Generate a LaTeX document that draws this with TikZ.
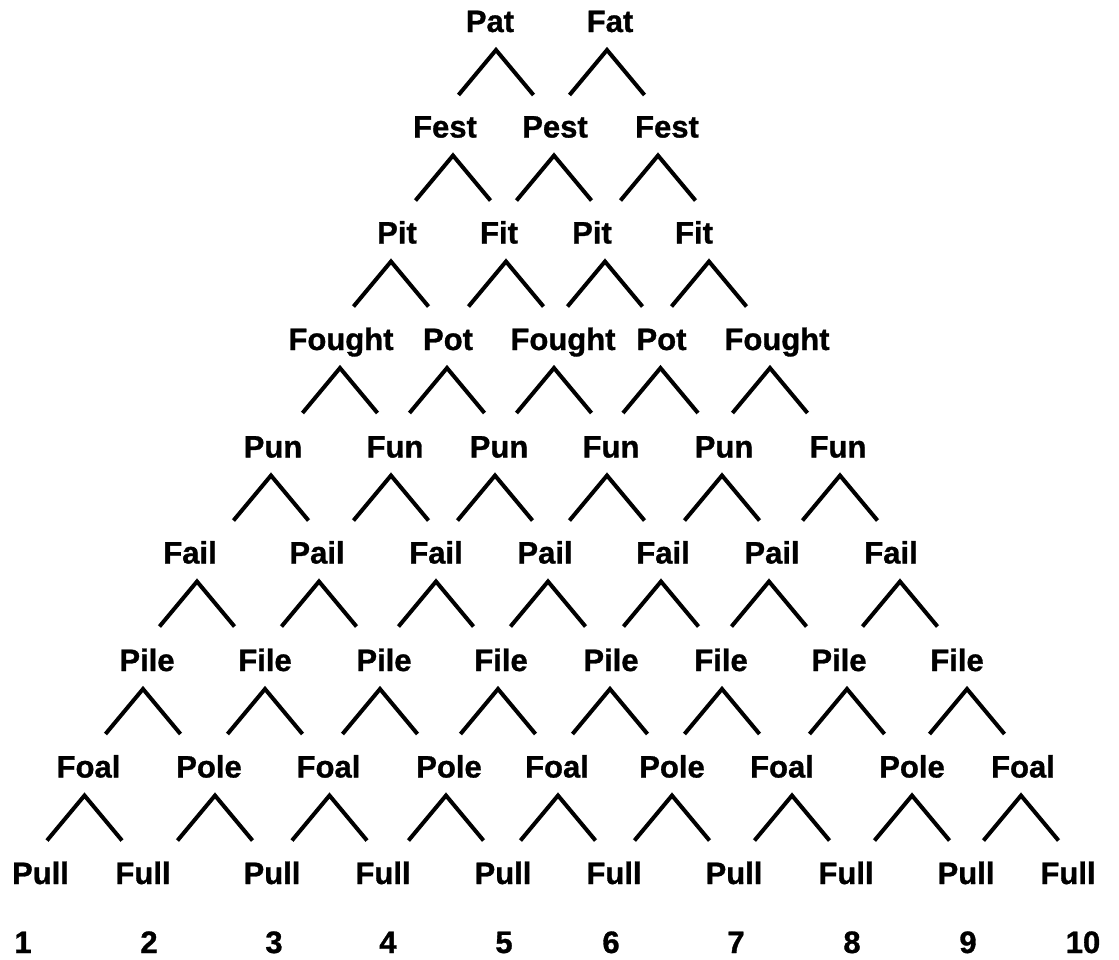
\documentclass[tikz,border=0pt]{standalone}
\usepackage{fontspec}
\setmainfont{Liberation Sans}[BoldFeatures={FakeBold=1}]
\usepackage{tikz}
\newcommand{\wordfont}{\fontsize{31}{37}\selectfont\bfseries}

\begin{document}
\begin{tikzpicture}[
        x=1pt, y=-1pt,
        word/.style={
          anchor=base,
          inner sep=0pt,
          font=\wordfont
        },
        fork/.pic={
          \draw[line width=4pt] (-37.5,45) -- (0,0) -- (37.5,45);
        }]
      \useasboundingbox (0,0) rectangle (1119,959);
      \foreach \x/\w/\d [count=\i] in {490/Pat/6, 610/Fat/-3} {
        \node[word] (\w-\i) at (\x,32) {\w};
        \pic at ([shift={(\d,18)}]\w-\i.base) {fork};
      }
      \foreach \x/\w/\d [count=\i] in {445/Fest/8, 555/Pest/-1, 667/Fest/-9} {
        \node[word] (\w-\i) at (\x,137.5) {\w};
        \pic at ([shift={(\d,18)}]\w-\i.base) {fork};
      }
      \foreach \x/\w/\d [count=\i] in {397/Pit/-6, 499/Fit/7, 592/Pit/13,
          694/Fit/15} {
        \node[word] (\w-\i) at (\x,243.5) {\w};
        \pic at ([shift={(\d,18)}]\w-\i.base) {fork};
      }
      \foreach \x/\w/\d [count=\i] in {341/Fought/-1, 448/Pot/-1,
          563/Fought/-9, 661.5/Pot/-1, 777/Fought/-7} {
        \node[word] (\w-\i) at (\x,350) {\w};
        \pic at ([shift={(\d,18)}]\w-\i.base) {fork};
      }
      \foreach \x/\w/\d [count=\i] in {273/Pun/-2, 395/Fun/-4, 499/Pun/-4,
          611/Fun/-4, 724/Pun/-2, 838/Fun/2} {
        \node[word] (\w-\i) at (\x,457.5) {\w};
        \pic at ([shift={(\d,18)}]\w-\i.base) {fork};
      }
      \foreach \x/\w/\d [count=\i] in {190/Fail/7, 317/Pail/2, 436/Fail/0,
          545/Pail/3, 663/Fail/-2, 772/Pail/-3, 891/Fail/9} {
        \node[word] (\w-\i) at (\x,563.5) {\w};
        \pic at ([shift={(\d,18)}]\w-\i.base) {fork};
      }
      \foreach \x/\w/\d [count=\i] in {147/Pile/-4, 265/File/0, 384/Pile/-4,
          501/File/-3, 611/Pile/-1, 721/File/1, 839/Pile/8, 957/File/10} {
        \node[word] (\w-\i) at (\x,671) {\w};
        \pic at ([shift={(\d,18)}]\w-\i.base) {fork};
      }
      \foreach \x/\w/\d [count=\i] in {88.5/Foal/-4, 209/Pole/6,
          328.5/Foal/1, 449/Pole/-3, 557/Foal/1, 672/Pole/0, 782/Foal/10,
          912/Pole/0, 1023/Foal/-2} {
        \node[word] (\w-\i) at (\x,777.5) {\w};
        \pic at ([shift={(\d,18)}]\w-\i.base) {fork};
      }
      \foreach \x/\w [count=\i] in {40.5/Pull, 143/Full, 272/Pull, 383/Full,
          503/Pull, 614/Full, 734/Pull, 846/Full, 966/Pull, 1068/Full}
        \node[word] (\w-\i) at (\x,884) {\w};
      \foreach \x [count=\i] in {23, 149, 274, 388, 504, 611, 736, 852, 968,
          1083}
        \node[word] (num-\i) at (\x,953) {\i};
      \end{tikzpicture}
\end{document}
